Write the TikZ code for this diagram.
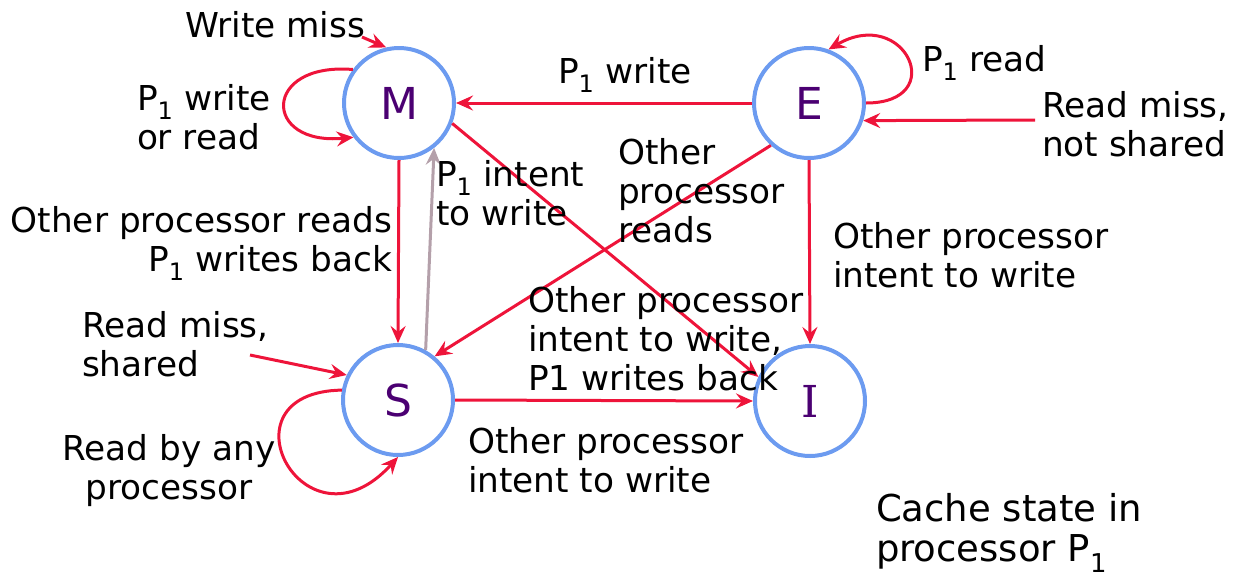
\documentclass[tikz,border=0pt]{standalone}
\usepackage{fontspec}
\setmainfont{DejaVu Sans}
\newfontfamily\serifI{DejaVu Serif}
\usetikzlibrary{arrows.meta}
\definecolor{edgered}{RGB}{238,20,58}
\definecolor{ringblue}{RGB}{108,155,240}
\definecolor{letterpurple}{RGB}{75,0,114}
\definecolor{greyarrow}{RGB}{180,160,170}
\tikzset{
  state/.style={circle, draw=ringblue, line width=4pt, minimum size=110pt, inner sep=0pt,
    text=letterpurple, font=\fontsize{44}{50}\selectfont},
  trans/.style={draw=edgered, line width=3pt, -{Stealth[length=17pt,width=15pt,inset=6pt]}},
  greytrans/.style={draw=greyarrow, line width=3pt, -{Stealth[length=17pt,width=15pt,inset=6pt]}},
  lbl/.style={inner sep=0pt, outer sep=0pt, align=left, anchor=west, font=\fontsize{34.3}{39}\selectfont},
}
\newcommand{\Pone}{P\textsubscript{1}}
\begin{document}
\begin{tikzpicture}[x=1pt,y=-1pt]
\useasboundingbox (0,0) rectangle (1238,579);
% states
\node[state] (M) at (399,103) {M};
\node[state] (E) at (809,103) {E};
\node[state] (S) at (398,400) {S};
\node[state] (I) at (810,401) {{\serifI I}};
% free ends
\coordinate (wmstart) at (362,37);
\coordinate (rmnsstart) at (1035,120);
\coordinate (rmsstart) at (250,355);
% transitions
\draw[trans] (E.west) -- (M.east);
\draw[trans] (M.-21) -- (I.155);
\draw[trans] (E.228) -- (S.50);
\draw[trans] (M.south) -- (S.north);
\draw[greytrans] (S.61) -- (M.-52);
\draw[trans] (S.east) -- (I.west);
\draw[trans] (E.south) -- (I.north);
\draw[trans] (M.144) .. controls (262,62) and (262,146) .. (M.217);
\draw[trans] (wmstart) -- (M.103);
\draw[trans] (E.0) .. controls (950,103) and (905,5) .. (E.70);
\draw[trans] (rmnsstart) -- (E.-18);
\draw[trans] (rmsstart) -- (S.154);
\draw[trans] (S.170) .. controls (215,392) and (305,560) .. (S.270);
% labels
\node[lbl] (lwm) at (185,25) {Write miss};
\node[lbl] (lmloop) at (137,117) {\Pone{} write\\or read};
\node[lbl] (leloop) at (922,63) {\Pone{} read};
\node[lbl] (lrmns) at (1042,124) {Read miss,\\not shared};
\node[lbl] (lem) at (558,75) {\Pone{} write};
\node[lbl] (les) at (618,191) {Other\\processor\\reads};
\node[lbl] (lsm) at (436,193) {\Pone{} intent\\to write};
\node[lbl, align=right, anchor=east] (lms) at (392,243) {Other processor reads\\\Pone{} writes back};
\node[lbl] (lei) at (833,255) {Other processor\\intent to write};
\node[lbl] (lrms) at (82,344) {Read miss,\\shared};
\node[lbl] (lmi) at (528,339) {Other processor\\intent to write,\\P1 writes back};
\node[lbl, align=center, anchor=center] (lsloop) at (169,471) {Read by any\\processor};
\node[lbl] (lsi) at (468,460) {Other processor\\intent to write};
\node[lbl, font=\fontsize{37}{40}\selectfont] (lcache) at (876,533) {Cache state in\\processor \Pone};
\end{tikzpicture}
\end{document}
